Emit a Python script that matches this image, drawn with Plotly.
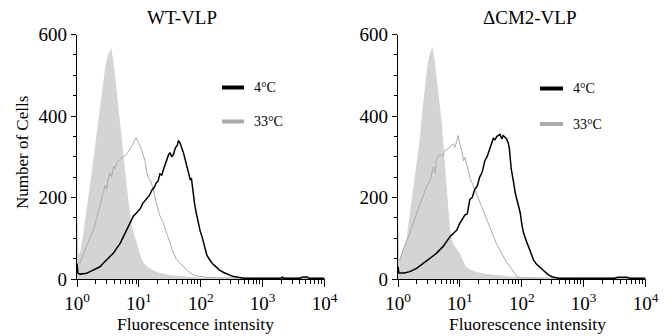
import plotly.graph_objects as go

# ---------------- data (x in log10 fluorescence units, y = cell counts) ----------------
panel_titles = ["WT-VLP", "\u0394CM2-VLP"]
legend_labels = ["4\u00b0C", "33\u00b0C"]
x_tick_vals = [1, 10, 100, 1000, 10000]
x_tick_text = ["10<sup>0</sup>", "10<sup>1</sup>", "10<sup>2</sup>", "10<sup>3</sup>", "10<sup>4</sup>"]
y_tick_vals = [0, 200, 400, 600]

# WT-VLP : control (filled gray)
wt_ctrl_logx = [0.0, 0.01, 0.02, 0.05, 0.10, 0.135, 0.19, 0.243, 0.30, 0.35, 0.40, 0.46, 0.50, 0.53,
                0.555, 0.60, 0.647, 0.69, 0.728, 0.77, 0.81, 0.85, 0.89, 0.93, 0.97, 1.01, 1.05, 1.10,
                1.16, 1.25, 1.34, 1.50, 1.67, 1.85, 2.00, 2.30, 3.00, 4.00]
wt_ctrl_y = [140, 140, 60, 64, 110, 153, 210, 269, 335, 400, 450, 524, 550, 560,
             567, 520, 450, 390, 335, 280, 220, 170, 129, 105, 88, 65, 47, 35,
             27, 20, 15, 10, 7, 4, 3, 1, 1, 1]

# WT-VLP : 33 C (gray line)
wt_33_logx = [0.0, 0.05, 0.10, 0.157, 0.21, 0.265, 0.32, 0.372, 0.40, 0.426, 0.45, 0.48, 0.51, 0.534,
              0.56, 0.588, 0.615, 0.642, 0.67, 0.696, 0.74, 0.777, 0.82, 0.858, 0.90, 0.939, 0.955,
              0.99, 1.019, 1.05, 1.073, 1.10, 1.127, 1.15, 1.18, 1.21, 1.235, 1.26, 1.29, 1.32, 1.343,
              1.37, 1.397, 1.42, 1.45, 1.48, 1.505, 1.53, 1.559, 1.60, 1.667, 1.72, 1.775, 1.83, 1.883,
              1.95, 2.00, 2.10, 2.30, 2.60, 3.00, 3.50, 4.00]
wt_33_y = [45, 39, 60, 80, 100, 121, 150, 179, 200, 212, 230, 220, 250, 261,
           250, 277, 270, 286, 290, 294, 298, 302, 310, 319, 330, 343, 347,
           335, 327, 315, 302, 290, 261, 250, 244, 230, 220, 200, 179, 165, 154,
           145, 138, 125, 113, 100, 88, 75, 63, 50, 39, 30, 22, 15, 10,
           7, 6, 4, 3, 2, 2, 2, 2]

# WT-VLP : 4 C (black line)
wt_4_logx = [0.0, 0.015, 0.05, 0.10, 0.157, 0.21, 0.265, 0.32, 0.372, 0.42, 0.48, 0.53, 0.59, 0.64,
             0.70, 0.75, 0.80, 0.86, 0.91, 0.96, 1.02, 1.06, 1.10, 1.13, 1.17, 1.21, 1.25, 1.28, 1.31,
             1.34, 1.37, 1.40, 1.43, 1.45, 1.48, 1.505, 1.53, 1.56, 1.59, 1.62, 1.64, 1.66, 1.69,
             1.72, 1.75, 1.775, 1.80, 1.83, 1.85, 1.87, 1.90, 1.93, 1.96, 1.99, 2.02, 2.045, 2.07,
             2.10, 2.15, 2.20, 2.26, 2.31, 2.37, 2.42, 2.48, 2.53, 2.60, 2.70, 3.00, 3.30, 3.32,
             3.34, 3.60, 3.65, 3.72, 3.75, 4.00]
wt_4_y = [38, 14, 12, 13, 14, 18, 22, 26, 30, 38, 47, 55, 64, 75,
          88, 104, 121, 138, 154, 162, 172, 185, 192, 198, 205, 218, 225, 236, 240,
          258, 255, 270, 285, 294, 305, 310, 300, 306, 322, 328, 339, 336, 325,
          310, 292, 277, 262, 244, 246, 215, 185, 160, 135, 118, 104, 88, 72,
          58, 46, 36, 28, 21, 16, 12, 9, 6, 4, 2, 2, 2, 5,
          2, 2, 5, 5, 2, 2]

# dCM2-VLP : control (filled gray)
cm_ctrl_logx = [0.0, 0.01, 0.02, 0.08, 0.136, 0.19, 0.243, 0.30, 0.35, 0.39, 0.45, 0.486, 0.52, 0.556,
                0.59, 0.62, 0.675, 0.71, 0.729, 0.76, 0.783, 0.81, 0.837, 0.87, 0.89, 0.94, 1.00,
                1.05, 1.10, 1.18, 1.26, 1.40, 1.54, 1.81, 2.00, 2.30, 3.00, 4.00]
cm_ctrl_y = [137, 137, 46, 70, 95, 160, 226, 285, 340, 410, 490, 535, 555, 570,
             540, 503, 437, 380, 340, 280, 226, 175, 128, 100, 87, 75, 63,
             45, 30, 22, 18, 13, 10, 6, 4, 2, 1, 1]

# dCM2-VLP : 33 C (gray line)
cm_33_logx = [0.0, 0.03, 0.08, 0.19, 0.30, 0.38, 0.46, 0.52, 0.57, 0.60, 0.62, 0.675, 0.72, 0.756,
              0.80, 0.837, 0.87, 0.89, 0.918, 0.95, 0.975, 1.00, 1.03, 1.06, 1.08, 1.12, 1.17, 1.20,
              1.27, 1.32, 1.38, 1.43, 1.485, 1.54, 1.59, 1.65, 1.70, 1.75, 1.81, 1.87, 1.92, 2.00,
              2.50, 3.00, 4.00]
cm_33_y = [46, 46, 71, 112, 160, 193, 226, 242, 275, 260, 291, 307, 300, 315,
           320, 323, 330, 331, 323, 340, 352, 330, 315, 290, 299, 275, 244, 235,
           209, 190, 169, 148, 128, 105, 87, 70, 55, 42, 30, 15, 6, 3,
           2, 2, 2]

# dCM2-VLP : 4 C (black line)
cm_4_logx = [0.0, 0.015, 0.10, 0.19, 0.30, 0.405, 0.52, 0.62, 0.73, 0.84, 0.95, 1.00, 1.08, 1.12,
             1.16, 1.20, 1.24, 1.28, 1.32, 1.36, 1.405, 1.44, 1.485, 1.52, 1.54, 1.566, 1.60, 1.647,
             1.68, 1.70, 1.75, 1.78, 1.80, 1.83, 1.85, 1.87, 1.895, 1.94, 1.976, 2.00, 2.03, 2.07,
             2.11, 2.15, 2.19, 2.24, 2.30, 2.36, 2.43, 2.50, 2.60, 3.00, 3.50, 3.55, 3.70, 3.75, 4.00]
cm_4_y = [30, 15, 15, 18, 26, 39, 51, 63, 80, 104, 120, 137, 157, 160,
          195, 200, 220, 228, 250, 262, 291, 300, 323, 335, 345, 342, 350, 355,
          344, 352, 345, 335, 320, 270, 245, 235, 211, 185, 162, 135, 112, 95,
          80, 62, 47, 36, 27, 18, 10, 5, 2, 2, 2, 4, 4, 2, 2]

# ---------------- figure ----------------
FONT = "Liberation Serif, Times New Roman, serif"
FILL_C = "#d4d4d4"
GRAY_C = "#ababab"

# the page body has an 8px margin: figure is sized so it fits the 666x336 window
OFF = 8
W, H = 666 - OFF, 336 - OFF


def px(x):
    return (x - OFF) / W


def py(y):
    return 1 - (y - OFF) / H


def lin(v):
    return [10 ** a for a in v]


panels = [
    (wt_ctrl_logx, wt_ctrl_y, wt_33_logx, wt_33_y, wt_4_logx, wt_4_y),
    (cm_ctrl_logx, cm_ctrl_y, cm_33_logx, cm_33_y, cm_4_logx, cm_4_y),
]

fig = go.Figure()
for i, (cx, cy, gx, gy, bx, by) in enumerate(panels):
    xa = "x" if i == 0 else "x2"
    ya = "y" if i == 0 else "y2"
    fig.add_trace(go.Scatter(x=lin(cx), y=cy, mode="lines", fill="tozeroy",
                             fillcolor=FILL_C, line=dict(width=0, color=FILL_C),
                             xaxis=xa, yaxis=ya, showlegend=False, hoverinfo="skip"))
    fig.add_trace(go.Scatter(x=lin(gx), y=gy, mode="lines", line=dict(width=1, color=GRAY_C),
                             xaxis=xa, yaxis=ya, showlegend=False, name=legend_labels[1]))
    fig.add_trace(go.Scatter(x=lin(bx), y=by, mode="lines", line=dict(width=1.5, color="black"),
                             xaxis=xa, yaxis=ya, showlegend=False, name=legend_labels[0]))

minor_x = [m * 10 ** d for d in range(4) for m in range(2, 10)]

xdoms = [[px(77), px(324.5)], [px(398), px(645.5)]]
ydom = [py(279), py(34.5)]

for i in range(2):
    sfx = "" if i == 0 else "2"
    fig.update_layout(**{
        "xaxis" + sfx: dict(
            domain=xdoms[i], type="log", range=[0, 4], anchor="y" + sfx, automargin=False,
            tickmode="array", tickvals=x_tick_vals, ticktext=x_tick_text,
            ticks="outside", ticklen=7, tickwidth=1.2, tickcolor="black",
            showline=True, linecolor="black", linewidth=1.3, showgrid=False, zeroline=False,
            tickfont=dict(family=FONT, size=19, color="black"),
            minor=dict(tickmode="array", tickvals=minor_x, ticks="outside", ticklen=3.5,
                       tickwidth=1, tickcolor="black", showgrid=False),
        ),
        "yaxis" + sfx: dict(
            domain=ydom, range=[0, 600], anchor="x" + sfx, automargin=False,
            tickmode="array", tickvals=y_tick_vals,
            ticks="outside", ticklen=5, tickwidth=1.2, tickcolor="black",
            showline=True, linecolor="black", linewidth=1.3, showgrid=False, zeroline=False,
            tickfont=dict(family=FONT, size=19, color="black"),
            minor=dict(dtick=50, ticks="outside", ticklen=3, tickwidth=1,
                       tickcolor="black", showgrid=False),
        ),
    })

annotations = []
shapes = []
title_x = [182, 530]
xt_x = [195, 527]
leg_line = [(222, 244), (540, 563)]
leg_text_x = [252, 571]
leg_y = [(87.5, 121.5), (88.5, 124)]
for i in range(2):
    annotations.append(dict(text=panel_titles[i], x=px(title_x[i]), y=py(17),
                            xref="paper", yref="paper", showarrow=False,
                            xanchor="center", yanchor="middle",
                            font=dict(family=FONT, size=19, color="black")))
    annotations.append(dict(text="Fluorescence intensity", x=px(xt_x[i]), y=py(324),
                            xref="paper", yref="paper", showarrow=False,
                            xanchor="center", yanchor="middle",
                            font=dict(family=FONT, size=17.5, color="black")))
    for j, col in enumerate(["black", GRAY_C]):
        yy = py(leg_y[i][j])
        shapes.append(dict(type="line", xref="paper", yref="paper",
                           x0=px(leg_line[i][0]), x1=px(leg_line[i][1]), y0=yy, y1=yy,
                           line=dict(color=col, width=4)))
        annotations.append(dict(text=legend_labels[j], x=px(leg_text_x[i]), y=yy,
                                xref="paper", yref="paper", showarrow=False,
                                xanchor="left", yanchor="middle",
                                font=dict(family=FONT, size=14, color="black")))

annotations.append(dict(text="Number of Cells", x=px(22), y=py(153),
                        xref="paper", yref="paper", showarrow=False, textangle=-90,
                        xanchor="center", yanchor="middle",
                        font=dict(family=FONT, size=17, color="black")))

fig.update_layout(width=W, height=H, margin=dict(l=0, r=0, t=0, b=0),
                  paper_bgcolor="white", plot_bgcolor="white",
                  annotations=annotations, shapes=shapes, showlegend=False)

fig.write_html("out.html")
